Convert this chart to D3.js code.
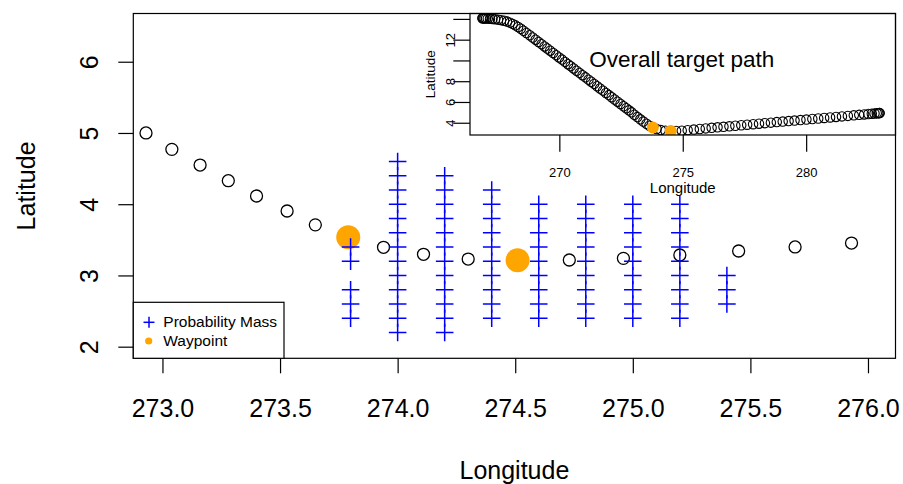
<!DOCTYPE html>
<html><head><meta charset="utf-8">
<script src="https://cdn.jsdelivr.net/npm/d3@7"></script>
<style>
html,body{margin:0;padding:0;background:#fff;}
svg{display:block;font-family:"Liberation Sans",Arial,Helvetica,sans-serif;}
</style></head>
<body><svg id="chart" width="903" height="484"></svg>
<script>
// ---------------- data ----------------
const pathLon = [266.88,266.90,266.93,266.97,267.03,267.10,267.19,267.29,267.40,267.52,267.64,267.76,267.88,268.00,268.11,268.22,268.33,268.44,268.55,268.67,
  268.80,268.92,269.04,269.16,269.28,269.40,269.51,269.63,269.75,269.87,269.99,270.11,270.23,270.35,270.46,270.58,270.70,270.82,270.94,271.06,
  271.18,271.29,271.41,271.53,271.65,271.77,271.89,272.01,272.12,272.24,272.36,272.48,272.60,272.71,272.82,
  272.93,273.04,273.16,273.28,273.40,273.53,273.65,273.79,273.94,274.11,274.30,274.51,274.73,274.96,275.20,275.45,275.69,275.93,
  276.17,276.41,276.65,276.89,277.13,277.37,277.61,277.85,278.09,278.33,278.57,278.81,279.05,279.29,279.53,279.77,280.01,280.25,
  280.49,280.73,280.97,281.21,281.45,281.69,281.93,282.15,282.35,282.52,282.66,282.77,282.86,282.92,282.96,282.98];
const pathLat = [14.06,14.06,14.05,14.05,14.04,14.03,14.01,13.99,13.96,13.93,13.88,13.82,13.74,13.64,13.52,13.38,13.22,13.05,12.86,12.64,
  12.43,12.21,12.00,11.78,11.57,11.35,11.15,10.94,10.72,10.51,10.29,10.08,9.86,9.64,9.45,9.23,9.01,8.80,8.58,8.37,
  8.15,7.95,7.74,7.52,7.30,7.09,6.87,6.66,6.46,6.24,6.03,5.81,5.59,5.40,5.20,
  5.00,4.77,4.55,4.33,4.115,3.905,3.71,3.535,3.395,3.297,3.23,3.213,3.217,3.24,3.287,3.343,3.40,3.455,
  3.51,3.56,3.61,3.66,3.71,3.76,3.81,3.86,3.91,3.96,4.01,4.06,4.11,4.16,4.21,4.26,4.31,4.36,
  4.41,4.46,4.51,4.56,4.61,4.66,4.71,4.76,4.80,4.84,4.87,4.89,4.91,4.92,4.93,4.93];

const waypointLon = [273.79, 274.51];
const waypointLat = [3.535, 3.213];

const massLon = [273.8, 274.0, 274.2, 274.4, 274.6, 274.8, 275.0, 275.2, 275.4];
const massLat = [
  [3.4, 3.2, 2.8, 2.6, 2.4],
  [4.6, 4.4, 4.2, 4.0, 3.8, 3.6, 3.4, 3.2, 3.0, 2.8, 2.6, 2.4, 2.2],
  [4.4, 4.2, 4.0, 3.8, 3.6, 3.4, 3.2, 3.0, 2.8, 2.6, 2.4, 2.2],
  [4.2, 4.0, 3.8, 3.6, 3.4, 3.2, 3.0, 2.8, 2.6, 2.4],
  [4.0, 3.8, 3.6, 3.4, 3.2, 3.0, 2.8, 2.6, 2.4],
  [4.0, 3.8, 3.6, 3.4, 3.2, 3.0, 2.8, 2.6, 2.4],
  [4.0, 3.8, 3.6, 3.4, 3.2, 3.0, 2.8, 2.6, 2.4],
  [4.0, 3.8, 3.6, 3.4, 3.2, 3.0, 2.8, 2.6, 2.4],
  [3.0, 2.8, 2.6]
];

const xTicks = [273.0, 273.5, 274.0, 274.5, 275.0, 275.5, 276.0];
const yTicks = [2, 3, 4, 5, 6];
const insetXTicks = [270, 275, 280];
const insetYTicks = [4, 6, 8, 10, 12, 14];
const insetYLabels = [4, 6, 8, 12];
const legendLabels = ["Probability Mass", "Waypoint"];

// ---------------- layout ----------------
const svg = d3.select("#chart");
const box = {l: 133.3, r: 895.5, t: 13.5, b: 358.3};
const ibox = {l: 470, r: 895.5, t: 13.5, b: 135};
const FONT = "\"Liberation Sans\",Arial,Helvetica,sans-serif";

const x = d3.scaleLinear().domain([272.876, 276.117]).range([box.l, box.r]);
const y = d3.scaleLinear().domain([1.837, 6.677]).range([box.b, box.t]);
const ix = d3.scaleLinear().domain([266.38, 283.62]).range([ibox.l, ibox.r]);
const iy = d3.scaleLinear().domain([2.82, 14.52]).range([ibox.b, ibox.t]);

const defs = svg.append("defs");
defs.append("clipPath").attr("id","clipMain").append("rect")
  .attr("x",box.l).attr("y",box.t).attr("width",box.r-box.l).attr("height",box.b-box.t);
defs.append("clipPath").attr("id","clipInset").append("rect")
  .attr("x",ibox.l).attr("y",ibox.t).attr("width",ibox.r-ibox.l).attr("height",ibox.b-ibox.t);

const path = pathLon.map((d,i)=>({lon:d, lat:pathLat[i]}));
const waypoints = waypointLon.map((d,i)=>({lon:d, lat:waypointLat[i]}));
const mass = [];
massLon.forEach((lon,i)=> massLat[i].forEach(lat => mass.push({lon, lat})));

// ---------------- main plot ----------------
const main = svg.append("g").attr("clip-path","url(#clipMain)");
main.selectAll("circle.path").data(path).join("circle")
  .attr("class","path")
  .attr("cx",d=>x(d.lon)).attr("cy",d=>y(d.lat)).attr("r",6)
  .attr("fill","none").attr("stroke","#000").attr("stroke-width",1.3);
main.selectAll("circle.wp").data(waypoints).join("circle")
  .attr("class","wp")
  .attr("cx",d=>x(d.lon)).attr("cy",d=>y(d.lat)).attr("r",12)
  .attr("fill","#FFA500");
const armM = 8.8;
const crosses = main.selectAll("g.mass").data(mass).join("g").attr("class","mass")
  .attr("transform",d=>`translate(${x(d.lon)},${y(d.lat)})`);
crosses.append("line").attr("x1",-armM).attr("x2",armM).attr("y1",0).attr("y2",0);
crosses.append("line").attr("x1",0).attr("x2",0).attr("y1",-armM).attr("y2",armM);
crosses.selectAll("line").attr("stroke","#0000FF").attr("stroke-width",1.5);

// axes
const xAxis = svg.append("g").attr("transform",`translate(0,${box.b})`)
  .call(d3.axisBottom(x).tickValues(xTicks).tickFormat(d3.format(".1f")).tickSize(15));
xAxis.select(".domain").remove();
xAxis.selectAll("line").attr("stroke","#000").attr("stroke-width",1.2);
xAxis.selectAll("text").attr("dy",0).attr("y",58.7)
  .attr("font-size",25).attr("font-family",FONT).attr("fill","#000");

const yAxis = svg.append("g").attr("transform",`translate(${box.l},0)`)
  .call(d3.axisLeft(y).tickValues(yTicks).tickFormat(d3.format("d")).tickSize(15));
yAxis.select(".domain").remove();
yAxis.selectAll("line").attr("stroke","#000").attr("stroke-width",1.2);
yAxis.selectAll("text").attr("dy",0).attr("x",0).attr("y",-35.3)
  .attr("transform","rotate(-90)").attr("text-anchor","middle")
  .attr("font-size",25).attr("font-family",FONT).attr("fill","#000");

svg.append("rect").attr("x",box.l).attr("y",box.t).attr("width",box.r-box.l).attr("height",box.b-box.t)
  .attr("fill","none").attr("stroke","#000").attr("stroke-width",1.2);

svg.append("text").attr("x",(box.l+box.r)/2).attr("y",479).attr("text-anchor","middle")
  .attr("font-size",25).attr("font-family",FONT).text("Longitude");
svg.append("text").attr("transform",`translate(35,${(box.t+box.b)/2}) rotate(-90)`)
  .attr("text-anchor","middle").attr("font-size",25).attr("font-family",FONT).text("Latitude");

// legend
const lg = svg.append("g");
lg.append("rect").attr("x",box.l).attr("y",302.3).attr("width",284-box.l).attr("height",box.b-302.3)
  .attr("fill","#fff").attr("stroke","#000").attr("stroke-width",1.2);
const lgc = lg.append("g").attr("transform","translate(149,322.3)");
lgc.append("line").attr("x1",-5.5).attr("x2",5.5).attr("y1",0).attr("y2",0);
lgc.append("line").attr("x1",0).attr("x2",0).attr("y1",-5.5).attr("y2",5.5);
lgc.selectAll("line").attr("stroke","#0000FF").attr("stroke-width",1.5);
lg.append("circle").attr("cx",148.7).attr("cy",341).attr("r",3.6).attr("fill","#FFA500");
lg.selectAll("text.lg").data(legendLabels).join("text").attr("class","lg")
  .attr("x",163.3).attr("y",(d,i)=>[327.3,346.3][i])
  .attr("font-size",15.5).attr("font-family",FONT).text(d=>d);

// ---------------- inset ----------------
const inset = svg.append("g");
const ig = inset.append("g").attr("clip-path","url(#clipInset)");
ig.selectAll("circle.ip").data(path).join("circle").attr("class","ip")
  .attr("cx",d=>ix(d.lon)).attr("cy",d=>iy(d.lat)).attr("r",4.7)
  .attr("fill","none").attr("stroke","#000").attr("stroke-width",1.1);
ig.selectAll("circle.iw").data(waypoints).join("circle").attr("class","iw")
  .attr("cx",d=>ix(d.lon)).attr("cy",d=>iy(d.lat)).attr("r",6)
  .attr("fill","#FFA500");

const ixAxis = inset.append("g").attr("transform",`translate(0,${ibox.b})`)
  .call(d3.axisBottom(ix).tickValues(insetXTicks).tickFormat(d3.format("d")).tickSize(16.7));
ixAxis.select(".domain").remove();
ixAxis.selectAll("line").attr("stroke","#000").attr("stroke-width",1.2);
ixAxis.selectAll("text").attr("dy",0).attr("y",42.3)
  .attr("font-size",13).attr("font-family",FONT).attr("fill","#000");

const iyAxis = inset.append("g").attr("transform",`translate(${ibox.l},0)`)
  .call(d3.axisLeft(iy).tickValues(insetYTicks).tickFormat(d=>insetYLabels.includes(d)?String(d):"").tickSize(16.7));
iyAxis.select(".domain").remove();
iyAxis.selectAll("line").attr("stroke","#000").attr("stroke-width",1.2);
iyAxis.selectAll("text").attr("dy",0).attr("x",0).attr("y",-15.5)
  .attr("transform","rotate(-90)").attr("text-anchor","middle")
  .attr("font-size",13).attr("font-family",FONT).attr("fill","#000");

inset.append("rect").attr("x",ibox.l).attr("y",ibox.t).attr("width",ibox.r-ibox.l).attr("height",ibox.b-ibox.t)
  .attr("fill","none").attr("stroke","#000").attr("stroke-width",1.2);
inset.append("text").attr("x",(ibox.l+ibox.r)/2).attr("y",192.7).attr("text-anchor","middle")
  .attr("font-size",15).attr("font-family",FONT).text("Longitude");
inset.append("text").attr("transform",`translate(435,${(ibox.t+ibox.b)/2}) rotate(-90)`)
  .attr("text-anchor","middle").attr("font-size",13.5).attr("font-family",FONT).text("Latitude");
inset.append("text").attr("x",681.7).attr("y",67).attr("text-anchor","middle")
  .attr("font-size",22.5).attr("font-family",FONT).text("Overall target path");
</script></body></html>
